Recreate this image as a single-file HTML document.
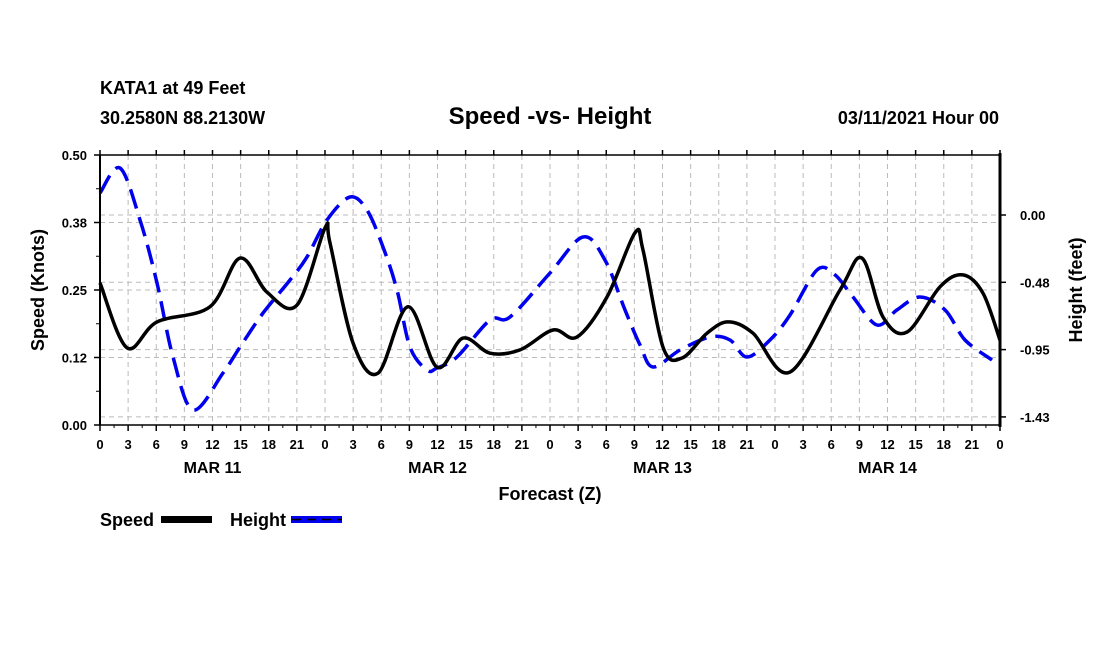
<!DOCTYPE html>
<html><head><meta charset="utf-8"><style>
body{margin:0;background:#fff;width:1100px;height:650px;overflow:hidden}
svg text{font-family:"Liberation Sans",Arial,sans-serif;font-weight:bold;fill:#000}
</style></head><body>
<svg id="chart" width="1100" height="650" viewBox="0 0 1100 650">
<text x="100" y="94" font-size="18">KATA1 at 49 Feet</text>
<text x="100" y="124" font-size="18">30.2580N 88.2130W</text>
<text x="550" y="124" font-size="24" text-anchor="middle">Speed -vs- Height</text>
<text x="999" y="124" font-size="18" text-anchor="end">03/11/2021 Hour 00</text>
<g id="grid"></g>
<g id="series"></g>
<g id="axes"></g>
<text x="550" y="500" font-size="18" text-anchor="middle">Forecast (Z)</text>
<text transform="translate(44,290) rotate(-90)" font-size="18" text-anchor="middle">Speed (Knots)</text>
<text transform="translate(1082,290) rotate(-90)" font-size="18" text-anchor="middle">Height (feet)</text>
<g>
<text x="100" y="526" font-size="18">Speed</text>
<rect x="161" y="516" width="51" height="7" fill="#000"/>
<text x="230" y="526" font-size="18">Height</text>
<rect x="291" y="516" width="51" height="7" fill="#0000ee"/>
<line x1="292" y1="519.5" x2="342" y2="519.5" stroke="#000" stroke-width="1.5" stroke-dasharray="9,6"/>
</g>
</svg>
<script>
const speedHours=[0,2.88,6.08,11.73,14.93,17.81,21.01,24.0,24.53,26.99,29.65,32.85,35.95,38.72,41.6,44.8,48.32,50.88,54.08,57.07,57.92,60.05,62.08,64.75,66.99,69.65,73.6,78.93,81.28,83.52,86.08,89.6,92.05,94.19,96];
const speedValues=[0.263,0.143,0.191,0.219,0.309,0.246,0.222,0.365,0.337,0.152,0.096,0.219,0.107,0.161,0.133,0.139,0.176,0.163,0.237,0.356,0.324,0.144,0.124,0.170,0.191,0.170,0.098,0.250,0.309,0.200,0.172,0.256,0.278,0.244,0.157];
const heightHours=[0,2.13,4.27,6.08,7.79,9.92,13.12,14.93,17.39,20.27,22.08,24.21,26.67,28.48,30.19,31.68,33.07,34.88,35.95,38.08,41.6,43.73,48.0,51.52,53.87,56.0,57.6,58.99,61.87,65.07,67.2,69.01,71.47,73.6,76.48,78.4,80.32,82.88,85.01,87.47,90.13,92.27,95.15];
const heightValues=[0.155,0.332,-0.035,-0.480,-1.002,-1.376,-1.115,-0.932,-0.692,-0.459,-0.296,-0.035,0.127,0.035,-0.226,-0.529,-0.932,-1.094,-1.080,-1.002,-0.741,-0.720,-0.409,-0.155,-0.318,-0.670,-0.917,-1.073,-0.953,-0.861,-0.882,-1.002,-0.882,-0.706,-0.388,-0.423,-0.579,-0.776,-0.670,-0.579,-0.670,-0.882,-1.023];
const leftTicks=[0.00,0.125,0.25,0.375,0.50];
const leftTickLabels=["0.00","0.12","0.25","0.38","0.50"];
const rightTicks=[0.00,-0.475,-0.95,-1.425];
const rightTickLabels=["0.00","-0.48","-0.95","-1.43"];
const hourTickLabels=["0","3","6","9","12","15","18","21","0","3","6","9","12","15","18","21","0","3","6","9","12","15","18","21","0","3","6","9","12","15","18","21","0"];
const dayLabels=["MAR 11","MAR 12","MAR 13","MAR 14"];

const X0=100,X1=1000,Y0=155,Y1=425,HMAX=96;
const xs=h=>X0+(X1-X0)*h/HMAX;
const yL=v=>Y1-(Y1-Y0)*v/0.5;
const yR=v=>215-v*141.7;
const NS="http://www.w3.org/2000/svg";
function mk(tag,attrs,parent){const e=document.createElementNS(NS,tag);for(const k in attrs)e.setAttribute(k,attrs[k]);parent.appendChild(e);return e;}
const grid=document.getElementById('grid'),axes=document.getElementById('axes'),series=document.getElementById('series');
for(let i=1;i<hourTickLabels.length-1;i++){const x=xs(i*3);
 const l=mk('line',{x1:x,y1:Y0,x2:x,y2:Y1,stroke:'#bbb','stroke-width':1,'stroke-dasharray':'5,4'},grid);
 
 }
leftTicks.forEach((v,i)=>{const y=yL(v);
 if(i>0&&i<leftTicks.length-1){const l=mk('line',{x1:X0,y1:y,x2:X1,y2:y,stroke:'#bbb','stroke-width':1,'stroke-dasharray':'5,4'},grid);
 
 }
 mk('line',{x1:X0-6,y1:y,x2:X0,y2:y,stroke:'#000','stroke-width':1.5},axes);
 const t=mk('text',{x:X0-13,y:y+5,'font-size':13,'text-anchor':'end'},axes);t.textContent=leftTickLabels[i];
 
 });
rightTicks.forEach((v,i)=>{const y=yR(v);
 const l=mk('line',{x1:X0,y1:y,x2:X1,y2:y,stroke:'#bbb','stroke-width':1,'stroke-dasharray':'5,4'},grid);
 
 
 mk('line',{x1:X1,y1:y,x2:X1+6,y2:y,stroke:'#000','stroke-width':1.5},axes);
 const t=mk('text',{x:X1+20,y:y+5,'font-size':13},axes);t.textContent=rightTickLabels[i];
 
 });
[0.0625,0.1875,0.3125,0.4375].forEach(v=>mk('line',{x1:X0-4,y1:yL(v),x2:X0,y2:yL(v),stroke:'#000'},axes));
hourTickLabels.forEach((s,i)=>{const x=xs(i*3);
 mk('line',{x1:x,y1:Y1,x2:x,y2:Y1+6,stroke:'#000','stroke-width':1.5},axes);
 mk('line',{x1:x,y1:Y0,x2:x,y2:Y0-5,stroke:'#000','stroke-width':1.5},axes);
 if(i<hourTickLabels.length-1){mk('line',{x1:xs(i*3+1.5),y1:Y1,x2:xs(i*3+1.5),y2:Y1+3,stroke:'#000'},axes);}
 const t=mk('text',{x:x,y:Y1+24,'font-size':13,'text-anchor':'middle'},axes);t.textContent=s;
 
 });
dayLabels.forEach((s,i)=>{const t=mk('text',{x:xs(12+24*i),y:Y1+48,'font-size':16,'text-anchor':'middle'},axes);t.textContent=s;
 
 });
mk('line',{x1:X0,y1:Y0,x2:X1,y2:Y0,stroke:'#000','stroke-width':1.5},axes);
mk('line',{x1:X0,y1:Y1,x2:X1,y2:Y1,stroke:'#000','stroke-width':1.5},axes);
mk('line',{x1:X0,y1:Y0,x2:X0,y2:Y1,stroke:'#000','stroke-width':2},axes);
mk('line',{x1:X1,y1:Y0-2,x2:X1,y2:Y1+2,stroke:'#000','stroke-width':3},axes);
function smooth(pts){let d='M'+pts[0][0]+','+pts[0][1];
 for(let i=0;i<pts.length-1;i++){const p0=pts[Math.max(0,i-1)],p1=pts[i],p2=pts[i+1],p3=pts[Math.min(pts.length-1,i+2)];
  const c1=[p1[0]+(p2[0]-p0[0])/6,p1[1]+(p2[1]-p0[1])/6],c2=[p2[0]-(p3[0]-p1[0])/6,p2[1]-(p3[1]-p1[1])/6];
  d+=' C'+c1[0].toFixed(1)+','+c1[1].toFixed(1)+' '+c2[0].toFixed(1)+','+c2[1].toFixed(1)+' '+p2[0].toFixed(1)+','+p2[1].toFixed(1);}
 return d;}
const hp=mk('path',{d:smooth(heightHours.map((h,i)=>[xs(h),yR(heightValues[i])])),fill:'none',stroke:'#0000ee','stroke-width':3.5,'stroke-dasharray':'20,9'},series);


const sp=mk('path',{d:smooth(speedHours.map((h,i)=>[xs(h),yL(speedValues[i])])),fill:'none',stroke:'#000','stroke-width':3.5,'stroke-linejoin':'round'},series);


</script>
</body></html>
